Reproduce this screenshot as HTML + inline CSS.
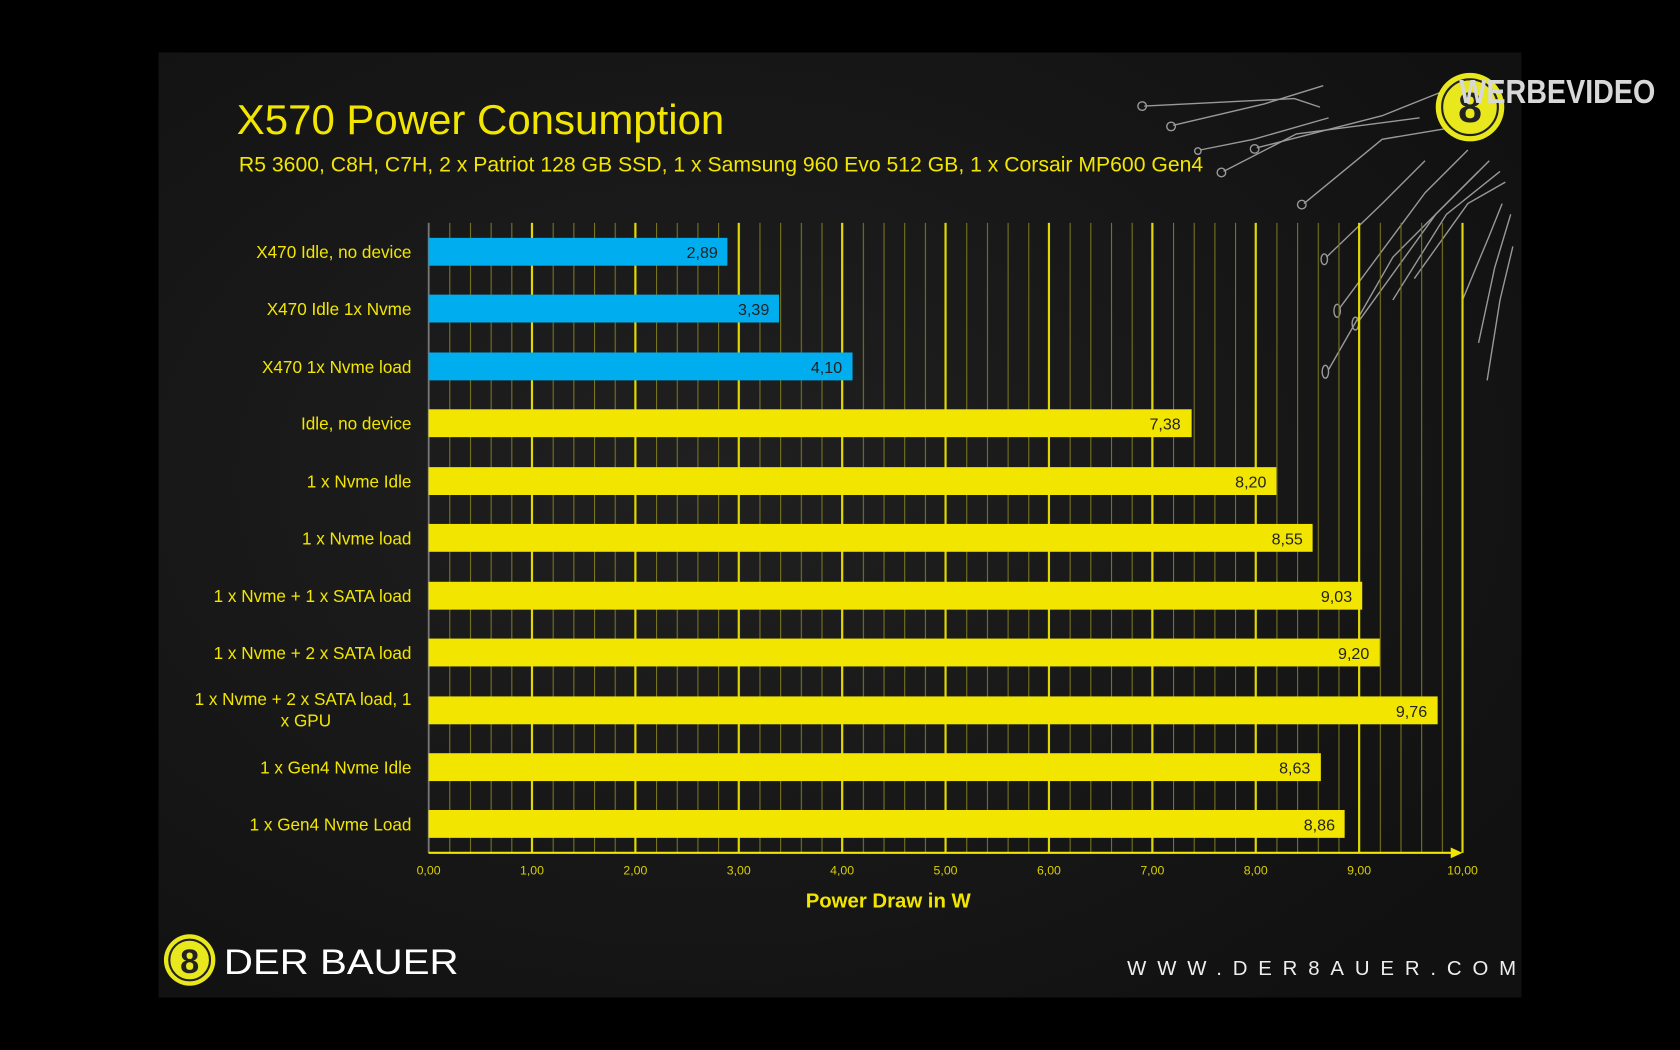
<!DOCTYPE html>
<html><head><meta charset="utf-8"><style>
html,body{margin:0;padding:0;background:#000;width:1680px;height:1050px;overflow:hidden}
svg{display:block}
text{font-family:"Liberation Sans","DejaVu Sans",sans-serif}
</style></head><body>
<svg width="1680" height="1050" viewBox="0 0 1568 980" xmlns="http://www.w3.org/2000/svg">
<defs>
<radialGradient id="bg" cx="0.4" cy="0.45" r="0.7">
<stop offset="0" stop-color="#202020"/><stop offset="1" stop-color="#111"/>
</radialGradient>
<pattern id="minor" x="400" y="0" width="19.3" height="10" patternUnits="userSpaceOnUse">
<rect x="0" y="0" width="1" height="10" fill="#7a7520"/>
</pattern>
</defs>
<rect width="1568" height="980" fill="#000"/>
<rect x="148" y="49" width="1272" height="882" fill="url(#bg)"/>
<g stroke="#bbb" stroke-width="1.3" fill="none" opacity="0.8">
<path d="M1068 99 L1208 92 L1232 100"/><circle cx="1066" cy="99" r="4"/>
<path d="M1095 117 L1180 97 L1235 80"/><circle cx="1093" cy="118" r="4"/>
<path d="M1142 160 L1210 125 L1325 110"/><circle cx="1140" cy="161" r="4"/>
<path d="M1173 138 L1290 108 L1345 86"/><circle cx="1171" cy="139" r="4"/>
<path d="M1217 190 L1290 130 L1350 120"/><circle cx="1215" cy="191" r="4"/>
<path d="M1250 288 L1330 180 L1370 140"/><ellipse cx="1248" cy="290" rx="3" ry="6"/>
<path d="M1240 345 L1300 240 L1380 160"/><ellipse cx="1237" cy="347" rx="3" ry="6"/>
<path d="M1268 300 L1340 200 L1390 150"/><ellipse cx="1265" cy="302" rx="3" ry="6"/>
<path d="M1300 280 L1350 200 L1400 160"/>
<path d="M1320 260 L1370 190 L1405 170"/>
<path d="M1380 320 L1395 250 L1410 200"/>
<path d="M1365 280 L1390 220 L1402 190"/>
<path d="M1388 355 L1400 280 L1412 230"/>
<path d="M1238 240 L1290 190 L1330 150"/><ellipse cx="1236" cy="242" rx="3" ry="5"/>
<path d="M1120 140 L1170 130 L1240 110"/><circle cx="1118" cy="141" r="3"/>
</g>
<circle cx="1372" cy="100" r="32" fill="#e9e81c"/>
<circle cx="1372" cy="100" r="26" fill="none" stroke="#222" stroke-width="2"/>
<text x="1372" y="114" text-anchor="middle" font-size="40" font-weight="bold" fill="#222">8</text>
<text x="1362" y="96" font-size="31" font-weight="bold" fill="#d8d8d8" textLength="183" lengthAdjust="spacingAndGlyphs">WERBEVIDEO</text>
<text x="221" y="125" font-size="39" fill="#f2e600" textLength="455" lengthAdjust="spacingAndGlyphs">X570 Power Consumption</text>
<text x="223" y="160" font-size="19.5" fill="#f2e600" textLength="900" lengthAdjust="spacingAndGlyphs">R5 3600, C8H, C7H, 2 x Patriot 128 GB SSD, 1 x Samsung 960 Evo 512 GB, 1 x Corsair MP600 Gen4</text>
<rect x="400" y="208" width="965" height="588" fill="url(#minor)"/>
<g stroke="#e0d800" stroke-width="2">
<line x1="496.5" y1="208" x2="496.5" y2="796"/><line x1="593" y1="208" x2="593" y2="796"/>
<line x1="689.5" y1="208" x2="689.5" y2="796"/><line x1="786" y1="208" x2="786" y2="796"/>
<line x1="882.5" y1="208" x2="882.5" y2="796"/><line x1="979" y1="208" x2="979" y2="796"/>
<line x1="1075.5" y1="208" x2="1075.5" y2="796"/><line x1="1172" y1="208" x2="1172" y2="796"/>
<line x1="1268.5" y1="208" x2="1268.5" y2="796"/><line x1="1365" y1="208" x2="1365" y2="796"/>
</g>
<line x1="400" y1="208" x2="400" y2="796" stroke="#777" stroke-width="1.5"/>
<line x1="400" y1="796" x2="1360" y2="796" stroke="#f2e600" stroke-width="2"/>
<polygon points="1354,791 1365,796 1354,801" fill="#f2e600"/>
<g fill="#00aeef">
<rect x="400" y="222" width="278.9" height="26"/>
<rect x="400" y="275" width="327.1" height="26"/>
<rect x="400" y="329" width="395.7" height="26"/>
</g>
<g fill="#f2e600">
<rect x="400" y="382" width="712.2" height="26"/>
<rect x="400" y="436" width="791.3" height="26"/>
<rect x="400" y="489" width="825.1" height="26"/>
<rect x="400" y="543" width="871.4" height="26"/>
<rect x="400" y="596" width="887.8" height="26"/>
<rect x="400" y="650" width="941.8" height="26"/>
<rect x="400" y="703" width="832.8" height="26"/>
<rect x="400" y="756" width="855.0" height="26"/>
</g>
<g font-size="15" fill="#222" text-anchor="end">
<text x="670" y="241">2,89</text><text x="718" y="294">3,39</text><text x="786" y="348">4,10</text>
<text x="1102" y="401">7,38</text><text x="1182" y="455">8,20</text><text x="1216" y="508">8,55</text>
<text x="1262" y="562">9,03</text><text x="1278" y="615">9,20</text><text x="1332" y="669">9,76</text>
<text x="1223" y="722">8,63</text><text x="1246" y="775">8,86</text>
</g>
<g font-size="16" fill="#f2e600" text-anchor="end">
<text x="384" y="241">X470 Idle, no device</text>
<text x="384" y="294">X470 Idle 1x Nvme</text>
<text x="384" y="348">X470 1x Nvme load</text>
<text x="384" y="401">Idle, no device</text>
<text x="384" y="455">1 x Nvme Idle</text>
<text x="384" y="508">1 x Nvme load</text>
<text x="384" y="562">1 x Nvme + 1 x SATA load</text>
<text x="384" y="615">1 x Nvme + 2 x SATA load</text>
<text x="384" y="658">1 x Nvme + 2 x SATA load, 1</text>
<text x="309" y="678">x GPU</text>
<text x="384" y="722">1 x Gen4 Nvme Idle</text>
<text x="384" y="775">1 x Gen4 Nvme Load</text>
</g>
<g font-size="11.5" fill="#d8cf00" text-anchor="middle">
<text x="400" y="816">0,00</text><text x="496.5" y="816">1,00</text><text x="593" y="816">2,00</text>
<text x="689.5" y="816">3,00</text><text x="786" y="816">4,00</text><text x="882.5" y="816">5,00</text>
<text x="979" y="816">6,00</text><text x="1075.5" y="816">7,00</text><text x="1172" y="816">8,00</text>
<text x="1268.5" y="816">9,00</text><text x="1365" y="816">10,00</text>
</g>
<text x="829" y="847" font-size="19" font-weight="bold" fill="#f2e600" text-anchor="middle">Power Draw in W</text>
<circle cx="177" cy="896" r="24" fill="#e9e81c"/>
<circle cx="177" cy="896" r="19" fill="none" stroke="#222" stroke-width="2"/>
<text x="177" y="908" text-anchor="middle" font-size="32" font-weight="bold" fill="#222">8</text>
<text x="209" y="909" font-size="33" fill="#fff" textLength="219" lengthAdjust="spacingAndGlyphs">DER BAUER</text>
<text x="1052" y="910" font-size="19" fill="#eee" textLength="363" lengthAdjust="spacing">WWW.DER8AUER.COM</text>
</svg>
</body></html>
